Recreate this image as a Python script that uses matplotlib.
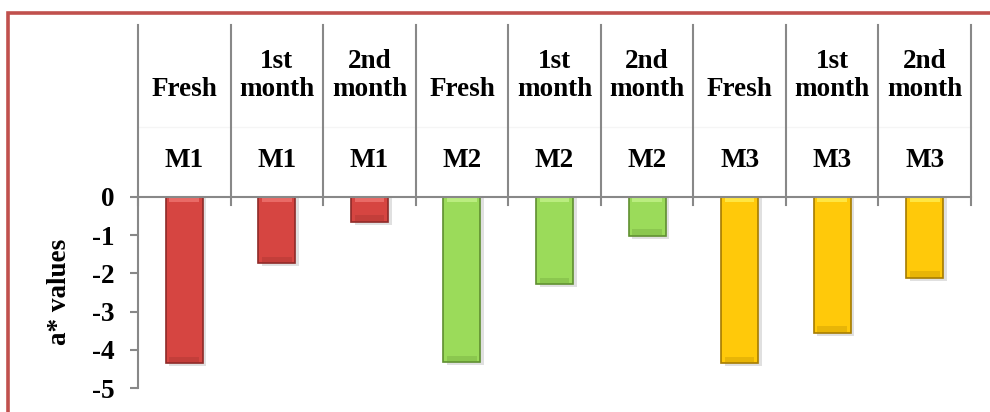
import matplotlib.pyplot as plt
from matplotlib.patches import Rectangle

# data
periods = ["Fresh", "1st\nmonth", "2nd\nmonth"] * 3
samples = ["M1", "M1", "M1", "M2", "M2", "M2", "M3", "M3", "M3"]
a_values = [-4.35, -1.73, -0.65, -4.32, -2.28, -1.02, -4.35, -3.56, -2.12]

face = {"M1": "#d64541", "M2": "#9bdb5a", "M3": "#ffc90a"}
edge = {"M1": "#8e2a28", "M2": "#5f8f30", "M3": "#a67c00"}
light = {"M1": "#f27a76", "M2": "#c8f58f", "M3": "#fff35a"}

plt.rcParams["font.family"] = ["Liberation Serif", "DejaVu Serif"]
plt.rcParams["font.weight"] = "bold"
fs = 19.5

fig = plt.figure(figsize=(9.9, 4.12), dpi=100)
ax = fig.add_axes([138 / 990, 24 / 412, 833 / 990, 191 / 412])

x = list(range(len(a_values)))
w = 0.4
for i, v in enumerate(a_values):
    s = samples[i]
    # soft shadow
    ax.bar(i + 0.04, v - 0.08, width=w, color="#000000", alpha=0.12, zorder=1)
    ax.bar(i, v, width=w, color=face[s], edgecolor=edge[s], linewidth=1.2, zorder=2)
    ax.bar(i, -0.12, width=w * 0.8, color=light[s], alpha=0.7, zorder=3)
    ax.bar(i, 0.15, bottom=v + 0.02, width=w * 0.8, color=edge[s], alpha=0.25, zorder=3)

ax.set_xlim(-0.5, len(a_values) - 0.5)
ax.set_ylim(-5, 0)
ax.set_yticks([0, -1, -2, -3, -4, -5])
ax.set_yticklabels(["0", "-1", "-2", "-3", "-4", "-5"], fontsize=fs, fontweight="bold")
ax.tick_params(axis="y", length=6, width=1.5, color="#888888", pad=11)
ax.set_xticks([])
for sp in ["top", "right", "bottom"]:
    ax.spines[sp].set_visible(False)
ax.spines["left"].set_color("#888888")
ax.spines["left"].set_linewidth(1.5)

unit = 191 / 5  # pixels per unit
top_y = (197 - 25) / unit
# category grid above the axis
ax.plot([-0.5, len(a_values) - 0.5], [0, 0], color="#888888", lw=1.5, clip_on=False, zorder=4)
ax.plot([-0.5, len(a_values) - 0.5], [(197 - 127) / unit] * 2, color="#f5f5f5", lw=1, clip_on=False)
for k in range(len(a_values) + 1):
    ax.plot([k - 0.5, k - 0.5], [-8 / unit, top_y], color="#888888", lw=1.5,
            clip_on=False, zorder=4)
for i in x:
    ax.text(i, (197 - 96) / unit, periods[i], ha="center", va="baseline",
            fontsize=fs, fontweight="bold", linespacing=1.15)
    ax.text(i, (197 - 167) / unit, samples[i], ha="center", va="baseline",
            fontsize=fs, fontweight="bold")

fig.text(60 / 990, 1 - 292 / 412, "a* values", rotation=90, ha="center", va="center",
         fontsize=fs, fontweight="bold")

# outer border of the chart area
fig.patches.append(Rectangle((8 / 990, -0.1), 1.2, 1 - 13.5 / 412 + 0.1,
                             transform=fig.transFigure, fill=False,
                             edgecolor="#c0504d", lw=2.6))

fig.savefig("out.png", dpi=100)
